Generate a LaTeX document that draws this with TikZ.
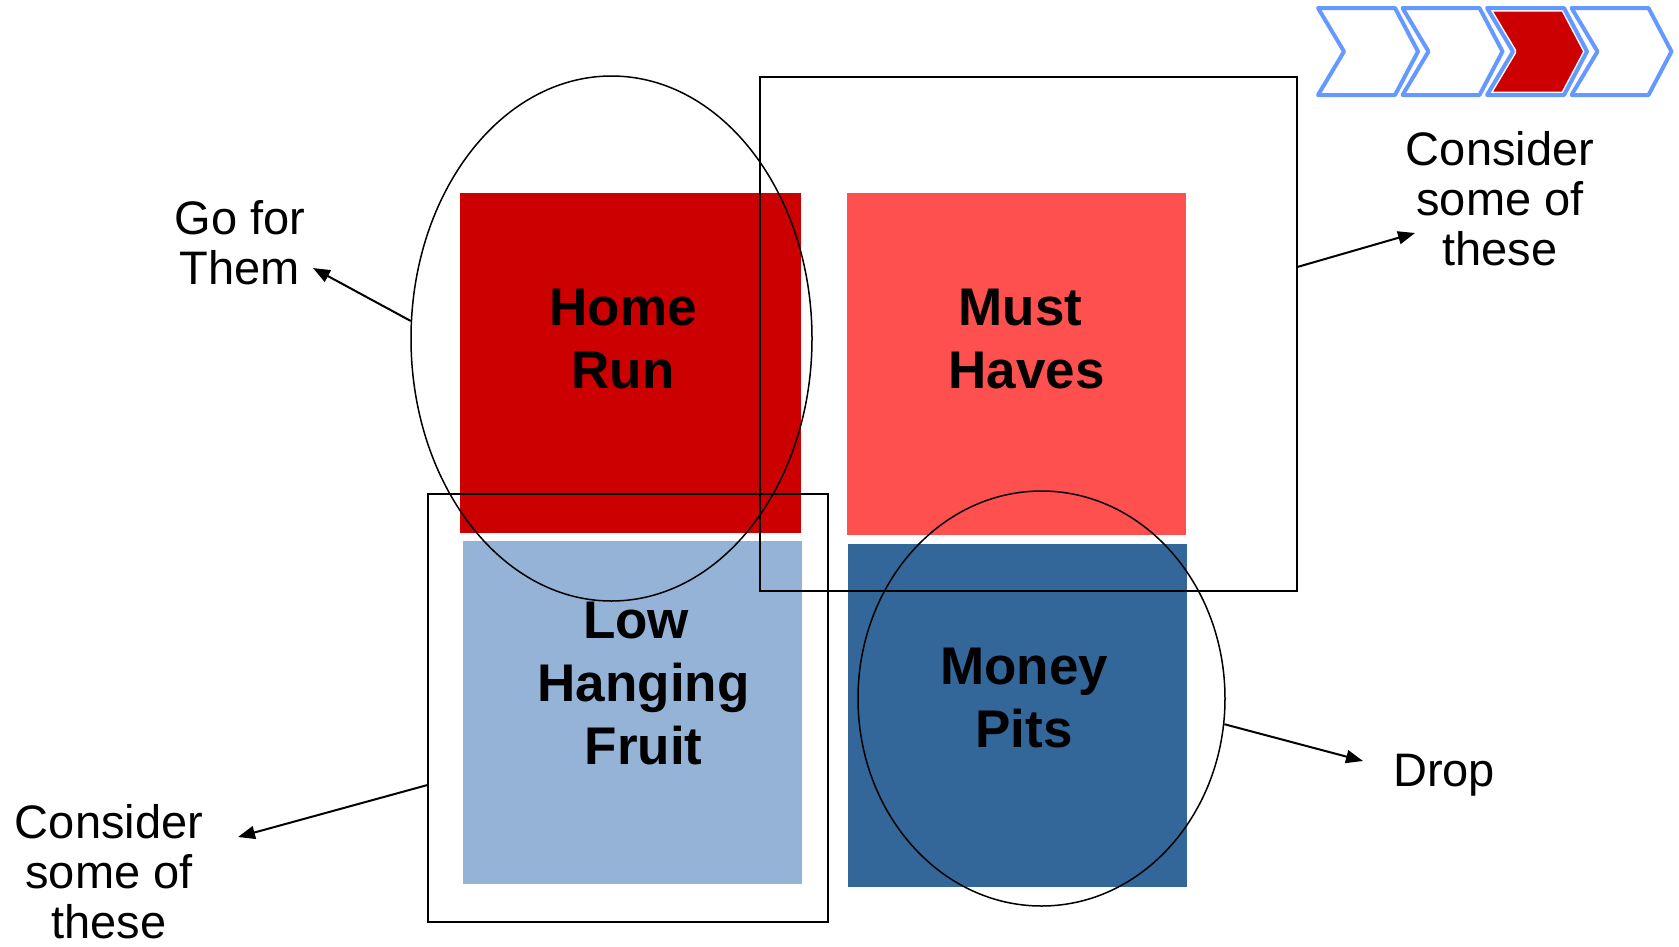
\documentclass[tikz,border=0pt]{standalone}
\usepackage{fontspec}
\setmainfont{Liberation Sans}
\usetikzlibrary{shapes.geometric,arrows.meta}
\definecolor{hrred}{HTML}{CC0000}
\definecolor{mhred}{HTML}{FF5050}
\definecolor{lhblue}{HTML}{95B3D7}
\definecolor{mpblue}{HTML}{336699}
\definecolor{chevblue}{HTML}{6699FF}
\tikzset{
  quad/.style={draw=none, inner sep=0pt, minimum width=339pt, minimum height=342pt},
  quadtext/.style={align=center, inner sep=0pt, font=\fontsize{53}{63}\selectfont\bfseries},
  lbl/.style={align=center, inner sep=0pt, font=\fontsize{47}{50}\selectfont},
  oval/.style={draw=black, line width=1.5pt, ellipse, inner sep=0pt},
  frame/.style={draw=black, line width=1.5pt, rectangle, inner sep=0pt},
  pointer/.style={draw=black, line width=2pt, -{Triangle[length=17pt,width=13pt]}},
}
\begin{document}
\begin{tikzpicture}[x=1pt,y=-1pt]
\useasboundingbox[fill=white] (0,0) rectangle (1679,946);

% quadrant boxes
\node[quad, fill=hrred, minimum width=341pt, minimum height=340pt] (hrbox) at (630.5,363) {};
\node[quad, fill=mhred] (mhbox) at (1016.5,364) {};
\node[quad, fill=lhblue, minimum height=343pt] (lhbox) at (632.5,712.5) {};
\node[quad, fill=mpblue, minimum height=343pt] (mpbox) at (1017.5,715.5) {};

% quadrant texts
\node[quadtext] (hrtext) at (623,339) {Home\\Run};
\node[quadtext] (mhtext) at (1026.5,339) {Must\hspace*{12pt}\\Haves};
\node[quadtext] (lhtext) at (643.5,684) {Low\hspace*{15pt}\\Hanging\\Fruit};
\node[quadtext] (mptext) at (1024,698) {Money\\Pits};

% outlines
\node[oval, minimum width=401pt, minimum height=525pt] (ovhr) at (611.5,338.5) {};
\node[oval, minimum width=367pt, minimum height=415pt] (ovmp) at (1041.5,698.5) {};
\node[frame, minimum width=537pt, minimum height=514pt] (frmh) at (1028.5,334) {};
\node[frame, minimum width=400pt, minimum height=428pt] (frlh) at (628,708) {};

% labels
\node[lbl] (lgo) at (240,243) {Go for\\Them};
\node[lbl] (ltr) at (1500,199) {Consider\\some of\\these};
\node[lbl] (lbl) at (109,872) {Consider\\some of\\these};
\node[lbl] (ldrop) at (1444,775) {Drop};

% arrow targets
\coordinate (tgo) at (313,268);
\coordinate (ttr) at (1415,233);
\coordinate (tbl) at (238,837);
\coordinate (tdrop) at (1363,761);

\draw[pointer] (ovhr.175.6) -- (tgo);
\draw[pointer] (frmh.14.4) -- (ttr);
\draw[pointer] (frlh.201.5) -- (tbl);
\draw[pointer] (ovmp.-8) -- (tdrop);

% chevrons
\foreach \x/\f in {1318/white,1402.5/white,1487/hrred,1571.5/white}{
  \path[fill=\f] (\x,8) -- ++(77,0) -- ++(23,43.5) -- ++(-23,43.5) -- ++(-77,0) -- ++(26,-43.5) -- cycle;
  \draw[white, line width=7pt, line join=round] (\x,8) -- ++(77,0) -- ++(23,43.5) -- ++(-23,43.5) -- ++(-77,0) -- ++(26,-43.5) -- cycle;
  \draw[chevblue, line width=4pt, line join=round] (\x,8) -- ++(77,0) -- ++(23,43.5) -- ++(-23,43.5) -- ++(-77,0) -- ++(26,-43.5) -- cycle;
}
\end{tikzpicture}
\end{document}
